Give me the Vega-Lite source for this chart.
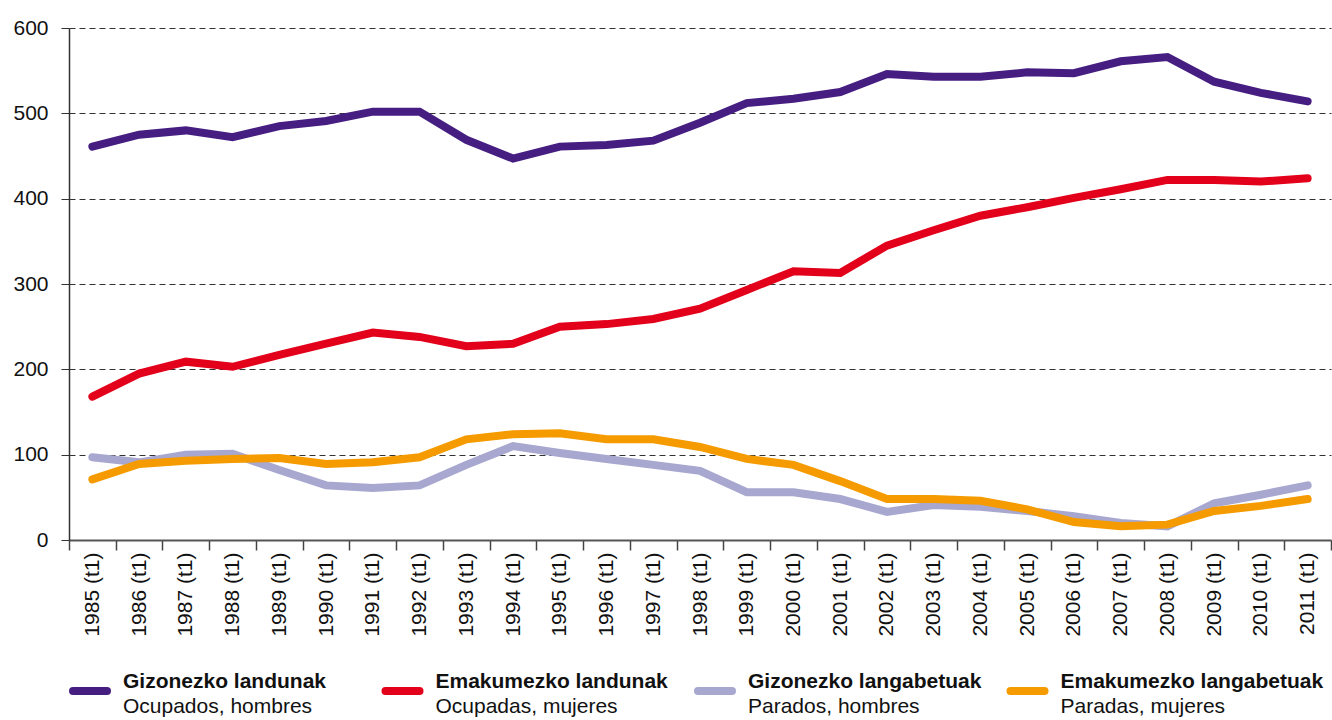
{
  "$schema": "https://vega.github.io/schema/vega-lite/v6.json",
  "padding": {"top": 17, "left": 12, "right": 0, "bottom": 0},
  "background": "white",
  "config": {
    "font": "Liberation Sans",
    "view": {"stroke": null},
    "concat": {"spacing": 34}
  },
  "vconcat": [
    {
      "width": 1262,
      "height": 512,
      "data": {"values": [
        {"period": "1985 (t1)", "series": "Gizonezko landunak", "value": 461},
        {"period": "1986 (t1)", "series": "Gizonezko landunak", "value": 475},
        {"period": "1987 (t1)", "series": "Gizonezko landunak", "value": 480},
        {"period": "1988 (t1)", "series": "Gizonezko landunak", "value": 472},
        {"period": "1989 (t1)", "series": "Gizonezko landunak", "value": 485},
        {"period": "1990 (t1)", "series": "Gizonezko landunak", "value": 491},
        {"period": "1991 (t1)", "series": "Gizonezko landunak", "value": 502},
        {"period": "1992 (t1)", "series": "Gizonezko landunak", "value": 502},
        {"period": "1993 (t1)", "series": "Gizonezko landunak", "value": 469},
        {"period": "1994 (t1)", "series": "Gizonezko landunak", "value": 447},
        {"period": "1995 (t1)", "series": "Gizonezko landunak", "value": 461},
        {"period": "1996 (t1)", "series": "Gizonezko landunak", "value": 463},
        {"period": "1997 (t1)", "series": "Gizonezko landunak", "value": 468},
        {"period": "1998 (t1)", "series": "Gizonezko landunak", "value": 489},
        {"period": "1999 (t1)", "series": "Gizonezko landunak", "value": 512},
        {"period": "2000 (t1)", "series": "Gizonezko landunak", "value": 517},
        {"period": "2001 (t1)", "series": "Gizonezko landunak", "value": 525},
        {"period": "2002 (t1)", "series": "Gizonezko landunak", "value": 546},
        {"period": "2003 (t1)", "series": "Gizonezko landunak", "value": 543},
        {"period": "2004 (t1)", "series": "Gizonezko landunak", "value": 543},
        {"period": "2005 (t1)", "series": "Gizonezko landunak", "value": 548},
        {"period": "2006 (t1)", "series": "Gizonezko landunak", "value": 547},
        {"period": "2007 (t1)", "series": "Gizonezko landunak", "value": 561},
        {"period": "2008 (t1)", "series": "Gizonezko landunak", "value": 566},
        {"period": "2009 (t1)", "series": "Gizonezko landunak", "value": 537},
        {"period": "2010 (t1)", "series": "Gizonezko landunak", "value": 524},
        {"period": "2011 (t1)", "series": "Gizonezko landunak", "value": 514},
        {"period": "1985 (t1)", "series": "Emakumezko landunak", "value": 168},
        {"period": "1986 (t1)", "series": "Emakumezko landunak", "value": 195},
        {"period": "1987 (t1)", "series": "Emakumezko landunak", "value": 209},
        {"period": "1988 (t1)", "series": "Emakumezko landunak", "value": 203},
        {"period": "1989 (t1)", "series": "Emakumezko landunak", "value": 217},
        {"period": "1990 (t1)", "series": "Emakumezko landunak", "value": 230},
        {"period": "1991 (t1)", "series": "Emakumezko landunak", "value": 243},
        {"period": "1992 (t1)", "series": "Emakumezko landunak", "value": 238},
        {"period": "1993 (t1)", "series": "Emakumezko landunak", "value": 227},
        {"period": "1994 (t1)", "series": "Emakumezko landunak", "value": 230},
        {"period": "1995 (t1)", "series": "Emakumezko landunak", "value": 250},
        {"period": "1996 (t1)", "series": "Emakumezko landunak", "value": 253},
        {"period": "1997 (t1)", "series": "Emakumezko landunak", "value": 259},
        {"period": "1998 (t1)", "series": "Emakumezko landunak", "value": 271},
        {"period": "1999 (t1)", "series": "Emakumezko landunak", "value": 293},
        {"period": "2000 (t1)", "series": "Emakumezko landunak", "value": 315},
        {"period": "2001 (t1)", "series": "Emakumezko landunak", "value": 313},
        {"period": "2002 (t1)", "series": "Emakumezko landunak", "value": 345},
        {"period": "2003 (t1)", "series": "Emakumezko landunak", "value": 363},
        {"period": "2004 (t1)", "series": "Emakumezko landunak", "value": 380},
        {"period": "2005 (t1)", "series": "Emakumezko landunak", "value": 390},
        {"period": "2006 (t1)", "series": "Emakumezko landunak", "value": 401},
        {"period": "2007 (t1)", "series": "Emakumezko landunak", "value": 411},
        {"period": "2008 (t1)", "series": "Emakumezko landunak", "value": 422},
        {"period": "2009 (t1)", "series": "Emakumezko landunak", "value": 422},
        {"period": "2010 (t1)", "series": "Emakumezko landunak", "value": 420},
        {"period": "2011 (t1)", "series": "Emakumezko landunak", "value": 424},
        {"period": "1985 (t1)", "series": "Gizonezko langabetuak", "value": 97},
        {"period": "1986 (t1)", "series": "Gizonezko langabetuak", "value": 91},
        {"period": "1987 (t1)", "series": "Gizonezko langabetuak", "value": 100},
        {"period": "1988 (t1)", "series": "Gizonezko langabetuak", "value": 101},
        {"period": "1989 (t1)", "series": "Gizonezko langabetuak", "value": 82},
        {"period": "1990 (t1)", "series": "Gizonezko langabetuak", "value": 64},
        {"period": "1991 (t1)", "series": "Gizonezko langabetuak", "value": 61},
        {"period": "1992 (t1)", "series": "Gizonezko langabetuak", "value": 64},
        {"period": "1993 (t1)", "series": "Gizonezko langabetuak", "value": 88},
        {"period": "1994 (t1)", "series": "Gizonezko langabetuak", "value": 110},
        {"period": "1995 (t1)", "series": "Gizonezko langabetuak", "value": 102},
        {"period": "1996 (t1)", "series": "Gizonezko langabetuak", "value": 95},
        {"period": "1997 (t1)", "series": "Gizonezko langabetuak", "value": 88},
        {"period": "1998 (t1)", "series": "Gizonezko langabetuak", "value": 81},
        {"period": "1999 (t1)", "series": "Gizonezko langabetuak", "value": 56},
        {"period": "2000 (t1)", "series": "Gizonezko langabetuak", "value": 56},
        {"period": "2001 (t1)", "series": "Gizonezko langabetuak", "value": 48},
        {"period": "2002 (t1)", "series": "Gizonezko langabetuak", "value": 33},
        {"period": "2003 (t1)", "series": "Gizonezko langabetuak", "value": 41},
        {"period": "2004 (t1)", "series": "Gizonezko langabetuak", "value": 39},
        {"period": "2005 (t1)", "series": "Gizonezko langabetuak", "value": 34},
        {"period": "2006 (t1)", "series": "Gizonezko langabetuak", "value": 28},
        {"period": "2007 (t1)", "series": "Gizonezko langabetuak", "value": 20},
        {"period": "2008 (t1)", "series": "Gizonezko langabetuak", "value": 16},
        {"period": "2009 (t1)", "series": "Gizonezko langabetuak", "value": 43},
        {"period": "2010 (t1)", "series": "Gizonezko langabetuak", "value": 53},
        {"period": "2011 (t1)", "series": "Gizonezko langabetuak", "value": 64},
        {"period": "1985 (t1)", "series": "Emakumezko langabetuak", "value": 71},
        {"period": "1986 (t1)", "series": "Emakumezko langabetuak", "value": 89},
        {"period": "1987 (t1)", "series": "Emakumezko langabetuak", "value": 93},
        {"period": "1988 (t1)", "series": "Emakumezko langabetuak", "value": 95},
        {"period": "1989 (t1)", "series": "Emakumezko langabetuak", "value": 96},
        {"period": "1990 (t1)", "series": "Emakumezko langabetuak", "value": 89},
        {"period": "1991 (t1)", "series": "Emakumezko langabetuak", "value": 91},
        {"period": "1992 (t1)", "series": "Emakumezko langabetuak", "value": 97},
        {"period": "1993 (t1)", "series": "Emakumezko langabetuak", "value": 118},
        {"period": "1994 (t1)", "series": "Emakumezko langabetuak", "value": 124},
        {"period": "1995 (t1)", "series": "Emakumezko langabetuak", "value": 125},
        {"period": "1996 (t1)", "series": "Emakumezko langabetuak", "value": 118},
        {"period": "1997 (t1)", "series": "Emakumezko langabetuak", "value": 118},
        {"period": "1998 (t1)", "series": "Emakumezko langabetuak", "value": 109},
        {"period": "1999 (t1)", "series": "Emakumezko langabetuak", "value": 95},
        {"period": "2000 (t1)", "series": "Emakumezko langabetuak", "value": 88},
        {"period": "2001 (t1)", "series": "Emakumezko langabetuak", "value": 69},
        {"period": "2002 (t1)", "series": "Emakumezko langabetuak", "value": 48},
        {"period": "2003 (t1)", "series": "Emakumezko langabetuak", "value": 48},
        {"period": "2004 (t1)", "series": "Emakumezko langabetuak", "value": 46},
        {"period": "2005 (t1)", "series": "Emakumezko langabetuak", "value": 36},
        {"period": "2006 (t1)", "series": "Emakumezko langabetuak", "value": 21},
        {"period": "2007 (t1)", "series": "Emakumezko langabetuak", "value": 16},
        {"period": "2008 (t1)", "series": "Emakumezko langabetuak", "value": 18},
        {"period": "2009 (t1)", "series": "Emakumezko langabetuak", "value": 34},
        {"period": "2010 (t1)", "series": "Emakumezko langabetuak", "value": 40},
        {"period": "2011 (t1)", "series": "Emakumezko langabetuak", "value": 48}
      ]},
      "mark": {"type": "line", "strokeWidth": 8, "strokeCap": "round", "strokeJoin": "miter"},
      "encoding": {
        "x": {
          "field": "period", "type": "ordinal",
          "scale": {"type": "band", "paddingInner": 0, "paddingOuter": 0},
          "axis": {
            "title": null, "labelAngle": 270, "labelAlign": "right", "labelBaseline": "middle",
            "labelFontSize": 21, "labelColor": "#111", "labelPadding": 2,
            "tickBand": "extent", "tickSize": 10, "tickColor": "#444", "tickWidth": 1.5,
            "domainColor": "#555", "domainWidth": 2, "grid": false
          }
        },
        "y": {
          "field": "value", "type": "quantitative",
          "scale": {"domain": [0, 600], "nice": false, "zero": true},
          "axis": {
            "title": null, "values": [0, 100, 200, 300, 400, 500, 600],
            "labelFontSize": 21, "labelColor": "#111", "labelPadding": 13,
            "tickSize": 8, "tickColor": "#333", "domainColor": "#333", "domainWidth": 1.5,
            "grid": true, "gridColor": "#333", "gridDash": [6, 4], "gridWidth": 1.2
          }
        },
        "color": {
          "field": "series", "type": "nominal",
          "scale": {
            "domain": ["Gizonezko landunak", "Emakumezko landunak", "Gizonezko langabetuak", "Emakumezko langabetuak"],
            "range": ["#461E82", "#E3001B", "#A7A7D0", "#F59B00"]
          },
          "legend": null
        }
      }
    },
    {
      "width": 1250,
      "height": 40,
      "data": {"values": [
        {"series": "Gizonezko landunak", "subtitle": "Ocupados, hombres"},
        {"series": "Emakumezko landunak", "subtitle": "Ocupadas, mujeres"},
        {"series": "Gizonezko langabetuak", "subtitle": "Parados, hombres"},
        {"series": "Emakumezko langabetuak", "subtitle": "Paradas, mujeres"}
      ]},
      "encoding": {
        "x": {
          "field": "series", "type": "nominal", "bandPosition": 0,
          "sort": ["Gizonezko landunak", "Emakumezko landunak", "Gizonezko langabetuak", "Emakumezko langabetuak"],
          "scale": {"type": "band", "paddingInner": 0, "paddingOuter": 0},
          "axis": null
        }
      },
      "layer": [
        {
          "mark": {"type": "point", "shape": "stroke", "filled": false, "size": 1156, "strokeWidth": 8, "strokeCap": "round", "xOffset": 21, "yOffset": -3, "opacity": 1},
          "encoding": {
            "color": {"field": "series", "type": "nominal", "legend": null}
          }
        },
        {
          "mark": {"type": "text", "align": "left", "baseline": "middle", "dx": 54, "dy": -12, "fontSize": 21, "fontWeight": "bold", "color": "#111"},
          "encoding": {"text": {"field": "series"}}
        },
        {
          "mark": {"type": "text", "align": "left", "baseline": "middle", "dx": 54, "dy": 13, "fontSize": 21, "color": "#111"},
          "encoding": {"text": {"field": "subtitle"}}
        }
      ]
    }
  ]
}
